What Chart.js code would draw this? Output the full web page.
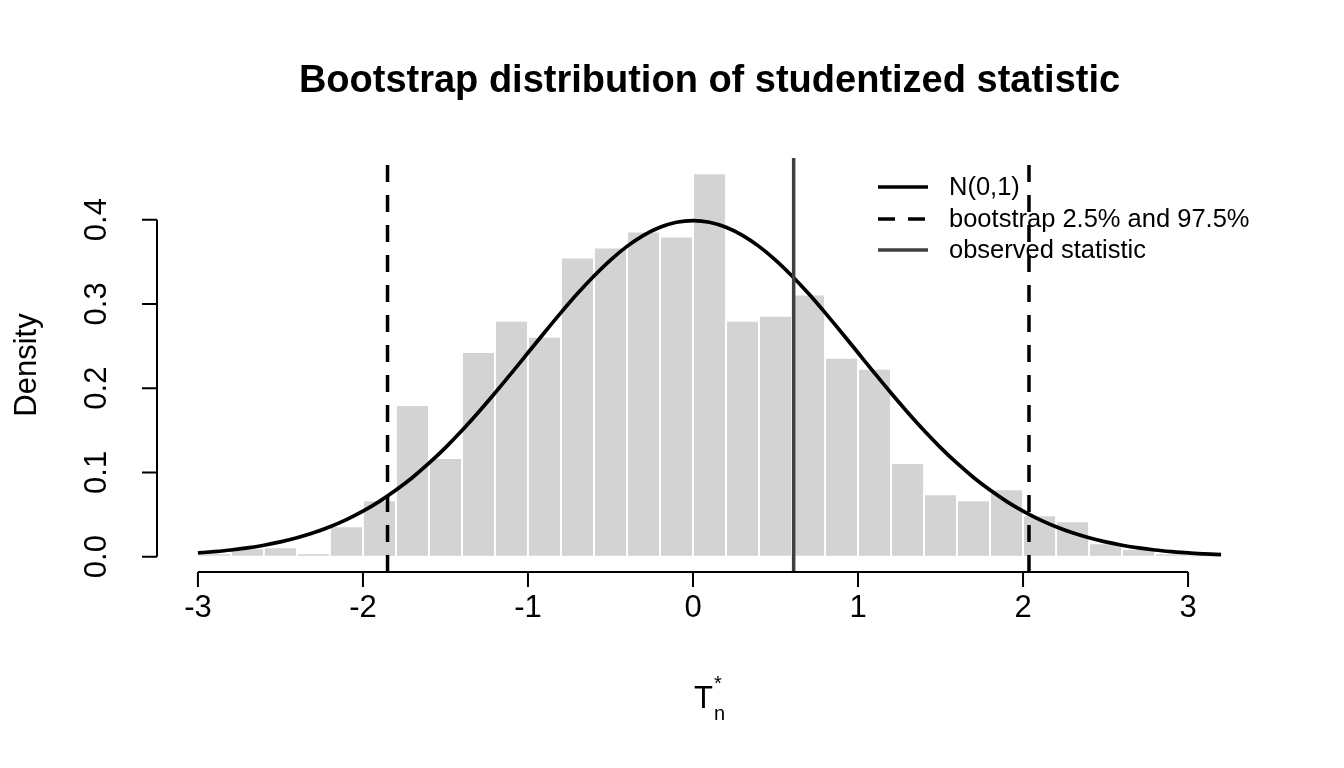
<!DOCTYPE html>
<html>
<head>
<meta charset="utf-8">
<script src="https://cdn.jsdelivr.net/npm/chart.js@4.4.1/dist/chart.umd.min.js"></script>
<style>
  html, body { margin: 0; padding: 0; background: #ffffff; }
  #c { display: block; }
</style>
</head>
<body>
<canvas id="c" width="1344" height="768"></canvas>
<script>
// ---- data ----
const binEdges = [-3.0,-2.8,-2.6,-2.4,-2.2,-2.0,-1.8,-1.6,-1.4,-1.2,-1.0,-0.8,-0.6,-0.4,-0.2,0.0,
                  0.2,0.4,0.6,0.8,1.0,1.2,1.4,1.6,1.8,2.0,2.2,2.4,2.6,2.8,3.0,3.2];
const densities = [0.004,0.010,0.011,0.004,0.036,0.067,0.180,0.117,0.243,0.280,0.261,0.355,0.367,0.386,0.380,
                   0.455,0.280,0.286,0.311,0.236,0.223,0.111,0.074,0.067,0.080,0.049,0.042,0.016,0.009,0.004,0.002];
const curveX = [-3.0,-2.9,-2.8,-2.7,-2.6,-2.5,-2.4,-2.3,-2.2,-2.1,-2.0,-1.9,-1.8,-1.7,-1.6,-1.5,-1.4,-1.3,-1.2,-1.1,
                -1.0,-0.9,-0.8,-0.7,-0.6,-0.5,-0.4,-0.3,-0.2,-0.1,0.0,0.1,0.2,0.3,0.4,0.5,0.6,0.7,0.8,0.9,
                1.0,1.1,1.2,1.3,1.4,1.5,1.6,1.7,1.8,1.9,2.0,2.1,2.2,2.3,2.4,2.5,2.6,2.7,2.8,2.9,3.0,3.1,3.2];
const curveY = [0.0044,0.0060,0.0079,0.0104,0.0136,0.0175,0.0224,0.0283,0.0355,0.0440,0.0540,0.0656,0.0790,0.0940,
                0.1109,0.1295,0.1497,0.1714,0.1942,0.2179,0.2420,0.2661,0.2897,0.3123,0.3332,0.3521,0.3683,0.3814,
                0.3910,0.3970,0.3989,0.3970,0.3910,0.3814,0.3683,0.3521,0.3332,0.3123,0.2897,0.2661,0.2420,0.2179,
                0.1942,0.1714,0.1497,0.1295,0.1109,0.0940,0.0790,0.0656,0.0540,0.0440,0.0355,0.0283,0.0224,0.0175,
                0.0136,0.0104,0.0079,0.0060,0.0044,0.0033,0.0024];
const bootQuantiles = [-1.851, 2.036];
const observedStat = 0.610;
const xTickValues = [-3,-2,-1,0,1,2,3];
const xTickLabels = ['-3','-2','-1','0','1','2','3'];
const yTickValues = [0,0.1,0.2,0.3,0.4];
const yTickLabels = ['0.0','0.1','0.2','0.3','0.4'];
const legendLabels = ['N(0,1)','bootstrap 2.5% and 97.5%','observed statistic'];
const titleText = 'Bootstrap distribution of studentized statistic';
const yTitle = 'Density';

// axis ranges (R style 4% extension)
const xMin = -3.248, xMax = 3.448;
const yMin = -0.0182, yMax = 0.4732;

const FONT = "'Liberation Sans', Arial, Helvetica, sans-serif";

const barData = densities.map((d, i) => ({ x: (binEdges[i] + binEdges[i + 1]) / 2, y: d }));
const curveData = curveX.map((x, i) => ({ x: x, y: curveY[i] }));
const vline = v => [{ x: v, y: yMin }, { x: v, y: yMax }];

const rAxes = {
  id: 'rAxes',
  afterDraw(chart) {
    const ctx = chart.ctx;
    const xs = chart.scales.x, ys = chart.scales.y;
    const area = chart.chartArea;
    ctx.save();
    ctx.strokeStyle = '#000';
    ctx.fillStyle = '#000';
    ctx.lineWidth = 2;
    ctx.lineCap = 'butt';
    // x axis
    const yb = area.bottom;
    ctx.beginPath();
    ctx.moveTo(xs.getPixelForValue(xTickValues[0]), yb);
    ctx.lineTo(xs.getPixelForValue(xTickValues[xTickValues.length - 1]), yb);
    xTickValues.forEach(v => {
      const p = xs.getPixelForValue(v);
      ctx.moveTo(p, yb);
      ctx.lineTo(p, yb + 15);
    });
    ctx.stroke();
    ctx.font = '31px ' + FONT;
    ctx.textAlign = 'center';
    ctx.textBaseline = 'middle';
    xTickValues.forEach((v, i) => {
      ctx.fillText(xTickLabels[i], xs.getPixelForValue(v), 608);
    });
    // y axis
    const xl = area.left;
    ctx.beginPath();
    ctx.moveTo(xl, ys.getPixelForValue(yTickValues[0]));
    ctx.lineTo(xl, ys.getPixelForValue(yTickValues[yTickValues.length - 1]));
    yTickValues.forEach(v => {
      const p = ys.getPixelForValue(v);
      ctx.moveTo(xl, p);
      ctx.lineTo(xl - 15, p);
    });
    ctx.stroke();
    yTickValues.forEach((v, i) => {
      ctx.save();
      ctx.translate(97, ys.getPixelForValue(v));
      ctx.rotate(-Math.PI / 2);
      ctx.fillText(yTickLabels[i], 0, 0);
      ctx.restore();
    });
    // y title
    ctx.save();
    ctx.translate(27, (area.top + area.bottom) / 2);
    ctx.rotate(-Math.PI / 2);
    ctx.fillText(yTitle, 0, 0);
    ctx.restore();
    // x title T*_n
    ctx.textAlign = 'left';
    ctx.textBaseline = 'alphabetic';
    ctx.font = '31px ' + FONT;
    ctx.fillText('T', 694, 708);
    ctx.font = '20px ' + FONT;
    ctx.fillText('n', 714, 720);
    ctx.fillText('*', 714, 690);
    // title
    ctx.font = 'bold 38px ' + FONT;
    ctx.textAlign = 'center';
    ctx.textBaseline = 'middle';
    ctx.fillText(titleText, (area.left + area.right) / 2, 82);
    // legend
    const rows = [187, 219, 250];
    const lx0 = 878, lx1 = 928, tx = 949;
    const styles = [
      { c: '#000', w: 3.5, d: [] },
      { c: '#000', w: 3.5, d: [17, 13] },
      { c: '#404040', w: 3.5, d: [] }
    ];
    ctx.font = '25.5px ' + FONT;
    ctx.textAlign = 'left';
    ctx.textBaseline = 'middle';
    rows.forEach((y, i) => {
      const s = styles[i];
      ctx.beginPath();
      ctx.strokeStyle = s.c;
      ctx.lineWidth = s.w;
      ctx.setLineDash(s.d);
      ctx.moveTo(lx0, y);
      ctx.lineTo(lx1, y);
      ctx.stroke();
      ctx.setLineDash([]);
      ctx.fillStyle = '#000';
      ctx.fillText(legendLabels[i], tx, y + 1);
    });
    ctx.restore();
  }
};

new Chart(document.getElementById('c'), {
  type: 'bar',
  data: {
    datasets: [
      {
        type: 'line', label: 'observed', data: vline(observedStat),
        borderColor: '#404040', borderWidth: 3.5, pointRadius: 0, order: 1
      },
      {
        type: 'line', label: 'q1', data: vline(bootQuantiles[0]),
        borderColor: '#000', borderWidth: 3.5, borderDash: [17, 13], pointRadius: 0, order: 2
      },
      {
        type: 'line', label: 'q2', data: vline(bootQuantiles[1]),
        borderColor: '#000', borderWidth: 3.5, borderDash: [17, 13], pointRadius: 0, order: 3
      },
      {
        type: 'line', label: 'N(0,1)', data: curveData,
        borderColor: '#000', borderWidth: 3.7, pointRadius: 0,
        cubicInterpolationMode: 'monotone', order: 4
      },
      {
        type: 'bar', label: 'hist', data: barData,
        backgroundColor: '#D3D3D3', borderColor: '#ffffff', borderWidth: 1.3,
        borderSkipped: false, barPercentage: 1.0, categoryPercentage: 1.0, order: 10
      }
    ]
  },
  options: {
    responsive: false,
    devicePixelRatio: 1,
    animation: false,
    parsing: true,
    layout: { padding: { left: 157, right: 82, top: 158, bottom: 196 } },
    plugins: { legend: { display: false }, tooltip: { enabled: false }, title: { display: false } },
    scales: {
      x: { type: 'linear', min: xMin, max: xMax, display: false, offset: false },
      y: { type: 'linear', min: yMin, max: yMax, display: false }
    }
  },
  plugins: [rAxes]
});
</script>
</body>
</html>
